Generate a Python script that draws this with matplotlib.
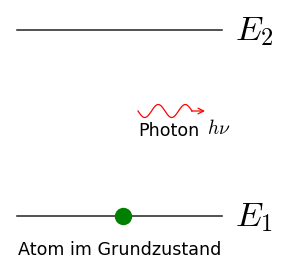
import numpy as np
import matplotlib
matplotlib.use("Agg")
import matplotlib.pyplot as plt

plt.rcParams['mathtext.fontset'] = 'cm'
plt.rcParams['font.family'] = ['DejaVu Sans']

# energy levels (pixel-like scene coordinates, y downwards)
level_names = ["$E_2$", "$E_1$"]
level_y = [30, 216]
level_x = [17, 222]
atom_x = 123
atom_label = "Atom im Grundzustand"
photon_label = "Photon"
photon_math = r"$h\nu$"
wave_start, wave_end, wave_y = 138, 192, 111
wave_periods = 2

fig = plt.figure(figsize=(2.83, 2.62), dpi=100)
ax = fig.add_axes([0, 0, 1, 1])
ax.set_xlim(0, 283)
ax.set_ylim(262, 0)
ax.axis('off')

for name, y in zip(level_names, level_y):
    ax.plot(level_x, [y, y], color='#222222', lw=1.1)
    ax.text(235, y + 1, name, fontsize=25, va='center', ha='left')

# atom in the ground state
ax.plot(atom_x, level_y[1], 'o', color='green', markersize=11.5)
ax.text(18, 250, atom_label, fontsize=12.6, va='center', ha='left')

# photon wiggle
t = np.linspace(0, 1, 300)
xs = wave_start + (wave_end - wave_start) * t
ys = wave_y + 6.5 * np.sin(2 * np.pi * wave_periods * t)
ax.plot(xs, ys, color='red', lw=0.9)
ax.annotate('', xy=(205, wave_y), xytext=(wave_end - 0.5, wave_y),
            arrowprops=dict(arrowstyle='->', color='red', lw=0.9,
                            shrinkA=0, shrinkB=0))
ax.text(138, 131, photon_label, fontsize=12.6, va='center', ha='left')
ax.text(207, 129, photon_math, fontsize=14, va='center', ha='left')

fig.savefig('out.png', dpi=100)
